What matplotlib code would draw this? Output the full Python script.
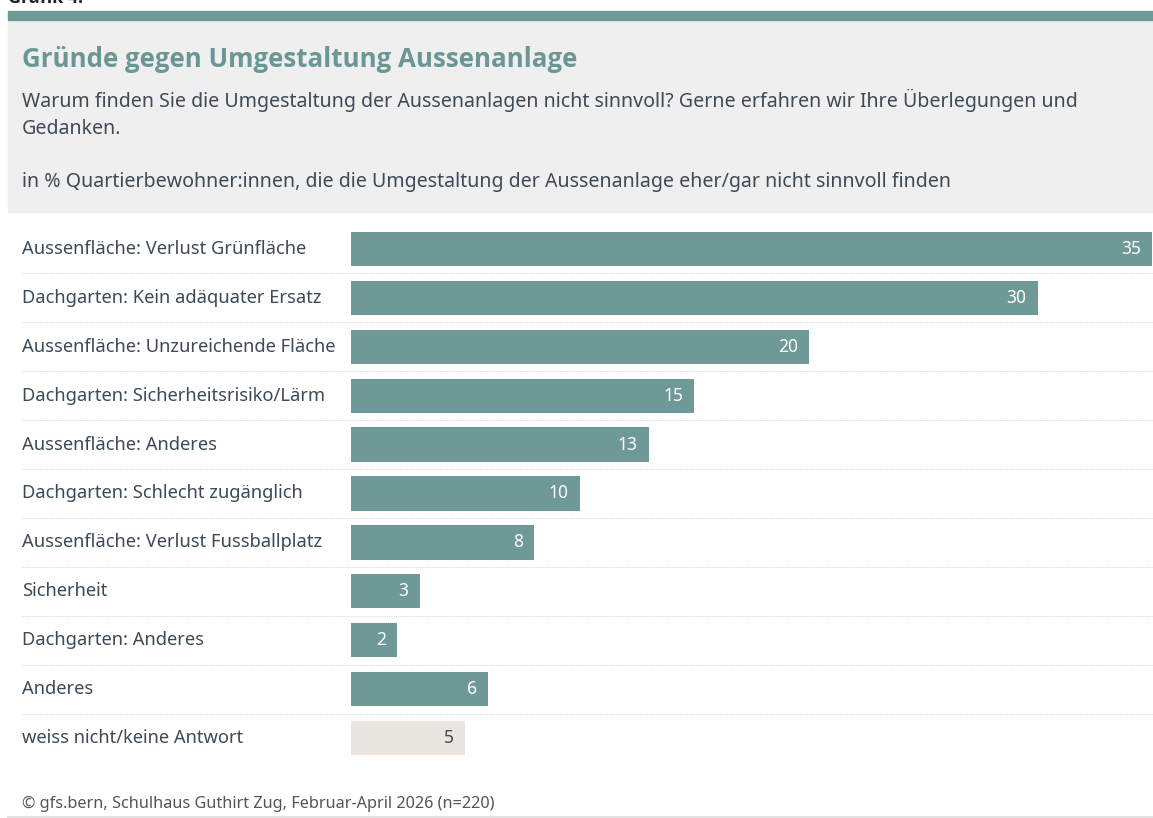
import matplotlib
matplotlib.use("Agg")
import matplotlib.pyplot as plt
from matplotlib.patches import Rectangle
from matplotlib.lines import Line2D
import matplotlib.transforms as mtransforms

plt.rcParams['font.family'] = ['Noto Sans', 'DejaVu Sans']

# data
categories = [
    "Aussenfläche: Verlust Grünfläche",
    "Dachgarten: Kein adäquater Ersatz",
    "Aussenfläche: Unzureichende Fläche",
    "Dachgarten: Sicherheitsrisiko/Lärm",
    "Aussenfläche: Anderes",
    "Dachgarten: Schlecht zugänglich",
    "Aussenfläche: Verlust Fussballplatz",
    "Sicherheit",
    "Dachgarten: Anderes",
    "Anderes",
    "weiss nicht/keine Antwort",
]
values = [35, 30, 20, 15, 13, 10, 8, 3, 2, 6, 5]
is_no_answer = [False] * 10 + [True]

title = "Gründe gegen Umgestaltung Aussenanlage"
subtitle_1 = "Warum finden Sie die Umgestaltung der Aussenanlagen nicht sinnvoll? Gerne erfahren wir Ihre Überlegungen und"
subtitle_2 = "Gedanken."
subtitle_3 = "in % Quartierbewohner:innen, die die Umgestaltung der Aussenanlage eher/gar nicht sinnvoll finden"
source = "© gfs.bern, Schulhaus Guthirt Zug, Februar-April 2026 (n=220)"

TEAL = "#6f9997"
GREY_BAR = "#e9e5e1"
TEXT = "#3d4a57"
HEADER_BG = "#efefef"

W, H = 1153, 818
fig = plt.figure(figsize=(W / 100, H / 100), dpi=100)

def fx(px):
    return px / W

def fy(py):
    return 1 - py / H

# header
fig.patches.append(Rectangle((fx(8), fy(212)), fx(W - 8), fy(21) - fy(212),
                             transform=fig.transFigure, color=HEADER_BG, zorder=0))
fig.patches.append(Rectangle((fx(8), fy(20)), fx(W - 8), fy(11) - fy(20),
                             transform=fig.transFigure, color=TEAL, zorder=1))
# cut off at the top edge, as in the original screenshot
fig.text(fx(8), fy(3), "Grafik 4:", fontsize=13, fontweight="bold", color="#222222",
         family=["Open Sans", "DejaVu Sans"], va="baseline", ha="left")

fig.text(fx(22), fy(67), title, fontsize=18.6, fontweight="bold", color="#6a9794",
         family=["Open Sans", "DejaVu Sans"], va="baseline", ha="left")
fig.text(fx(22), fy(107), subtitle_1, fontsize=14.1, color=TEXT, va="baseline", ha="left")
fig.text(fx(22), fy(134), subtitle_2, fontsize=14.1, color=TEXT, va="baseline", ha="left")
fig.text(fx(22), fy(187), subtitle_3, fontsize=14.1, color=TEXT, va="baseline", ha="left")

# bars
row_top, row_bot = 224.5, 762.5
ax = fig.add_axes([fx(351), fy(row_bot), fx(1152) - fx(351), fy(row_top) - fy(row_bot)])
n = len(categories)
ypos = list(range(n))
colors = [GREY_BAR if na else TEAL for na in is_no_answer]
ax.barh(ypos, values, height=0.70, color=colors, zorder=2)
ax.set_xlim(0, max(values))
ax.set_ylim(n - 0.5, -0.5)
ax.axis("off")

trans = mtransforms.blended_transform_factory(fig.transFigure, ax.transData)
for i, (cat, v, na) in enumerate(zip(categories, values, is_no_answer)):
    ax.text(fx(22), i, cat, transform=trans, fontsize=13.2, color=TEXT,
            va="center", ha="left")
    ax.annotate(str(v), xy=(v, i), xytext=(-11, 0), textcoords="offset pixels",
                ha="right", va="center", fontsize=12.5,
                color=TEXT if na else "white")
    if i < n - 1:
        ax.add_line(Line2D([fx(22), fx(1152)], [i + 0.5, i + 0.5], transform=trans,
                           color="#d8d8d8", linewidth=0.8, linestyle=(0, (1, 1)),
                           clip_on=False, zorder=1))

# footer
fig.text(fx(22), fy(808), source, fontsize=11.7, color="#555555", va="baseline", ha="left")
fig.lines.append(Line2D([fx(8), 1], [fy(816.5), fy(816.5)], transform=fig.transFigure,
                        color="#e2e2e2", linewidth=1.5))

fig.savefig("out.png", dpi=100, facecolor="white")
